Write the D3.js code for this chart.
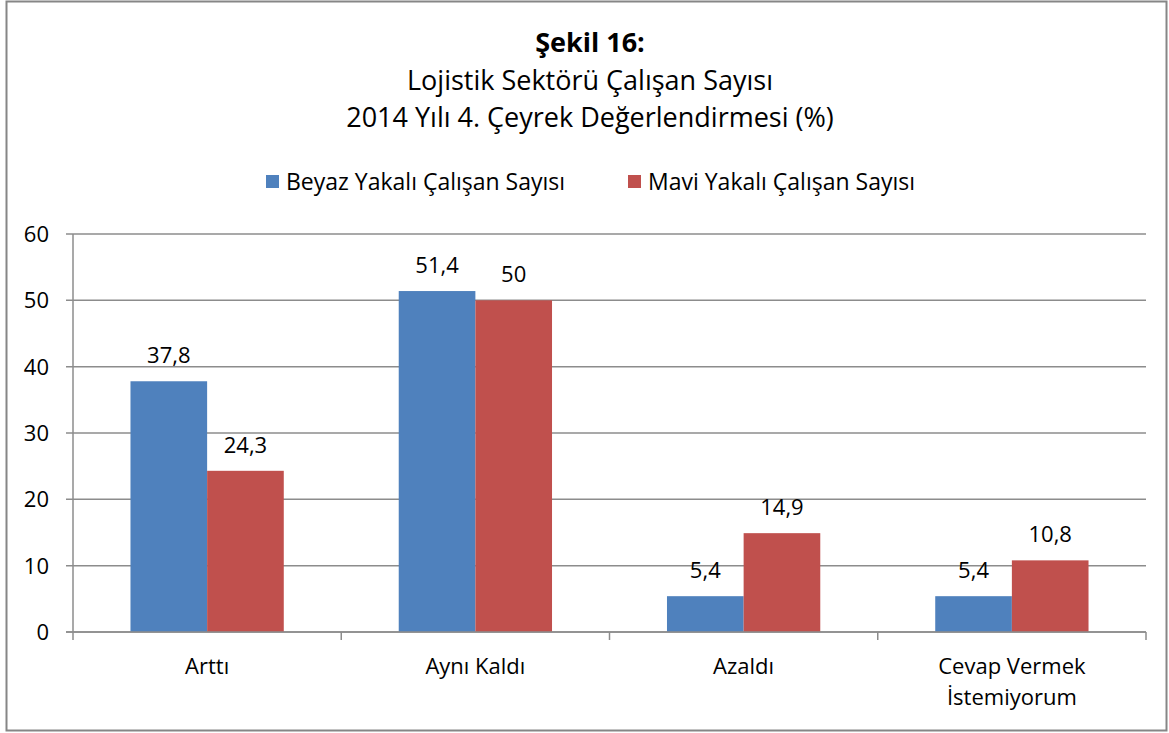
<!DOCTYPE html>
<html>
<head>
<meta charset="utf-8">
<title>Şekil 16</title>
<script src="https://d3js.org/d3.v7.min.js"></script>
<style>
  body { margin: 0; background: #fff; }
  svg text { font-family: "Open Sans", Lato, sans-serif; fill: #000; }
</style>
</head>
<body>
<div id="chart"></div>
<script>
// chart data
var categories = [["Arttı"], ["Aynı Kaldı"], ["Azaldı"], ["Cevap Vermek", "İstemiyorum"]];
var seriesNames = ["Beyaz Yakalı Çalışan Sayısı", "Mavi Yakalı Çalışan Sayısı"];
var beyazValues = [37.8, 51.4, 5.4, 5.4];
var maviValues = [24.3, 50, 14.9, 10.8];
var yTicks = [0, 10, 20, 30, 40, 50, 60];
var titleLines = ["Şekil 16:", "Lojistik Sektörü Çalışan Sayısı", "2014 Yılı 4. Çeyrek Değerlendirmesi (%)"];

var colors = ["#4f81bd", "#c0504d"];
var width = 1169, height = 733;
var margin = {left: 73, right: 23, top: 234, bottom: 101};
var fs = "22px";

var svg = d3.select("#chart").append("svg")
    .attr("width", width)
    .attr("height", height);

// outer frame
svg.append("rect")
    .attr("x", 6.5).attr("y", 1.5)
    .attr("width", 1160).attr("height", 729)
    .attr("fill", "#fff")
    .attr("stroke", "#868686")
    .attr("stroke-width", 2);

// title
svg.selectAll("text.title")
  .data(titleLines)
  .enter().append("text")
    .attr("class", "title")
    .attr("x", 590)
    .attr("y", function(d, i) { return 52 + i * 37.5; })
    .attr("text-anchor", "middle")
    .style("font-size", "27px")
    .style("font-weight", function(d, i) { return i == 0 ? "bold" : "normal"; })
    .text(function(d) { return d; });

var x0 = d3.scaleBand()
    .domain(d3.range(categories.length))
    .range([margin.left, width - margin.right]);

var bw = x0.bandwidth() / (2 + 1.5);

var y = d3.scaleLinear()
    .domain([0, 60])
    .range([height - margin.bottom, margin.top]);

// gridlines
svg.append("g")
  .selectAll("line")
  .data(yTicks)
  .enter().append("line")
    .attr("x1", margin.left - 7)
    .attr("x2", width - margin.right)
    .attr("y1", function(d) { return y(d); })
    .attr("y2", function(d) { return y(d); })
    .attr("stroke", "#8c8c8c")
    .attr("stroke-width", 1.5);

// y tick labels
svg.append("g")
  .selectAll("text")
  .data(yTicks)
  .enter().append("text")
    .attr("x", 49)
    .attr("y", function(d) { return y(d) + 8; })
    .attr("text-anchor", "end")
    .style("font-size", fs)
    .text(function(d) { return d; });

// bars
var series = [beyazValues, maviValues];
series.forEach(function(vals, s) {
  svg.append("g")
    .selectAll("rect")
    .data(vals)
    .enter().append("rect")
      .attr("x", function(d, i) { return x0(i) + bw * 0.75 + s * bw; })
      .attr("y", function(d) { return y(d); })
      .attr("width", bw)
      .attr("height", function(d) { return y(0) - y(d); })
      .attr("fill", colors[s]);

  svg.append("g")
    .selectAll("text")
    .data(vals)
    .enter().append("text")
      .attr("x", function(d, i) { return x0(i) + bw * 0.75 + s * bw + bw / 2; })
      .attr("y", function(d) { return y(d) - 18; })
      .attr("text-anchor", "middle")
      .style("font-size", fs)
      .text(function(d) { return String(d).replace(".", ","); });
});

// axes lines
svg.append("line")
    .attr("x1", margin.left).attr("x2", margin.left)
    .attr("y1", y(60)).attr("y2", y(0) + 8)
    .attr("stroke", "#8c8c8c").attr("stroke-width", 1.5);

svg.append("line")
    .attr("x1", margin.left - 7).attr("x2", width - margin.right)
    .attr("y1", y(0)).attr("y2", y(0))
    .attr("stroke", "#8c8c8c").attr("stroke-width", 1.5);

svg.append("g")
  .selectAll("line")
  .data(d3.range(1, categories.length + 1))
  .enter().append("line")
    .attr("x1", function(d) { return x0.range()[0] + d * x0.step(); })
    .attr("x2", function(d) { return x0.range()[0] + d * x0.step(); })
    .attr("y1", y(0))
    .attr("y2", y(0) + 8)
    .attr("stroke", "#8c8c8c").attr("stroke-width", 1.5);

// category labels
var cat = svg.append("g")
  .selectAll("text")
  .data(categories)
  .enter().append("text")
    .attr("x", function(d, i) { return x0(i) + x0.bandwidth() / 2; })
    .attr("y", y(0) + 42)
    .attr("text-anchor", "middle")
    .style("font-size", fs);

cat.selectAll("tspan")
  .data(function(d) { return d; })
  .enter().append("tspan")
    .attr("x", function() { return d3.select(this.parentNode).attr("x"); })
    .attr("dy", function(d, i) { return i == 0 ? 0 : 31; })
    .text(function(d) { return d; });

// legend
var legendX = [266, 628];
seriesNames.forEach(function(name, s) {
  svg.append("rect")
    .attr("x", legendX[s]).attr("y", 175)
    .attr("width", 13).attr("height", 13)
    .attr("fill", colors[s]);
  svg.append("text")
    .attr("x", legendX[s] + 20)
    .attr("y", 190)
    .style("font-size", "23px")
    .text(name);
});
</script>
</body>
</html>
